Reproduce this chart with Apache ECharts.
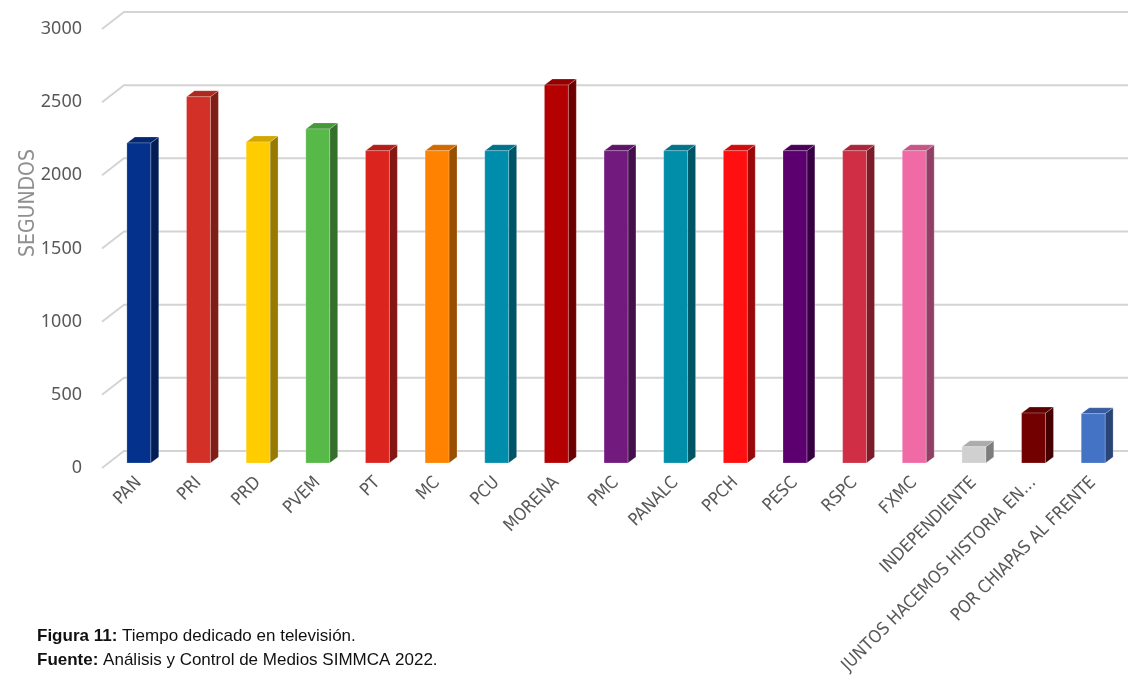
<!DOCTYPE html>
<html>
<head>
<meta charset="utf-8">
<script src="https://cdn.jsdelivr.net/npm/echarts@6/dist/echarts.min.js"></script>
<style>html,body{margin:0;padding:0;background:#fff;}#c{width:1128px;height:675px;}</style>
</head>
<body>
<div id="c"></div>
<script>
const categories = ['PAN','PRI','PRD','PVEM','PT','MC','PCU','MORENA','PMC','PANALC','PPCH','PESC','RSPC','FXMC','INDEPENDIENTE','JUNTOS HACEMOS HISTORIA EN…','POR CHIAPAS AL FRENTE'];
const seconds = [2187, 2503, 2194, 2283, 2134, 2134, 2134, 2583, 2134, 2134, 2134, 2134, 2134, 2134, 111, 341, 337];
const barColors = ['#03318c','#d33127','#ffcc00','#57b947','#dc241f','#ff8300','#008cab','#b40000','#721a7e','#008ea9','#ff0f0f','#5b006e','#cf2e45','#f06aa6','#d0d0d0','#720000','#4472c4'];
const yTicks = [0, 500, 1000, 1500, 2000, 2500, 3000];

function shade(hex, f) {
  const n = parseInt(hex.slice(1), 16);
  const r = Math.round(((n >> 16) & 255) * f), g = Math.round(((n >> 8) & 255) * f), b = Math.round((n & 255) * f);
  return 'rgb(' + r + ',' + g + ',' + b + ')';
}

const COND = '"DejaVu Sans Condensed", "DejaVu Sans", sans-serif';
const chart = echarts.init(document.getElementById('c'), null, {renderer: 'canvas'});
const DX = 8, DY = -6;       // bar depth
const GY = -12;              // wall depth offset (back plane)

chart.setOption({
  animation: false,
  grid: {left: 109, right: 5, top: 24, bottom: 212, containLabel: false, outerBoundsMode: 'none'},
  xAxis: {
    type: 'category', data: categories,
    axisLine: {show: false}, axisTick: {show: false},
    axisLabel: {rotate: 45, margin: 17, interval: 0, color: '#595959', fontSize: 17.5, fontFamily: COND}
  },
  yAxis: {
    type: 'value', min: 0, max: 3000, interval: 500,
    axisLine: {show: false}, axisTick: {show: false}, splitLine: {show: false},
    axisLabel: {margin: 27,
      formatter: function (v) { return '{a|' + v + '}'; },
      rich: {a: {color: '#595959', fontSize: 18, fontFamily: '"Noto Sans", sans-serif', padding: [10, 0, 0, 0]}}}
  },
  graphic: [
    {type: 'text', x: 29, y: 203, rotation: Math.PI / 2,
     style: {text: 'SEGUNDOS', fill: '#8f8f8f', font: '21px "DejaVu Sans Condensed", "DejaVu Sans", sans-serif', align: 'center', verticalAlign: 'middle'}},
    {type: 'text', x: 37, y: 636,
     style: {text: '{b|Figura 11:} Tiempo dedicado en televisión.', fill: '#111', font: '17px "Liberation Sans", Arial, sans-serif', verticalAlign: 'middle',
       rich: {b: {fontWeight: 'bold', fontSize: 17, fontFamily: '"Liberation Sans", Arial, sans-serif', fill: '#111'}}}},
    {type: 'text', x: 37, y: 660,
     style: {text: '{b|Fuente:} Análisis y Control de Medios SIMMCA 2022.', fill: '#111', font: '17px "Liberation Sans", Arial, sans-serif', verticalAlign: 'middle',
       rich: {b: {fontWeight: 'bold', fontSize: 17, fontFamily: '"Liberation Sans", Arial, sans-serif', fill: '#111'}}}}
  ],
  series: [
    {
      type: 'custom', z: 1, silent: true,
      data: yTicks.map(v => [0, v]),
      renderItem: function (params, api) {
        const p = api.coord([0, api.value(1)]);
        const band = api.size([1, 0])[0];
        const left = p[0] - band / 2;
        const y = p[1];
        return {
          type: 'polyline',
          shape: {points: [[left - 7, y + 5], [left + 15, y + GY], [params.coordSys.x + params.coordSys.width + 10, y + GY]]},
          style: {stroke: '#d4d4d4', lineWidth: 2, fill: null}
        };
      }
    },
    {
      type: 'custom', z: 5,
      data: seconds.map((v, i) => [i, v]),
      encode: {x: 0, y: 1},
      renderItem: function (params, api) {
        const i = api.value(0);
        const base = api.coord([i, 0]);
        const top = api.coord([i, api.value(1)]);
        const w = api.size([1, 0])[0] * 0.4;
        const x0 = base[0] - w / 2, x1 = base[0] + w / 2;
        const yb = base[1], yt = top[1];
        const c = barColors[i];
        return {
          type: 'group',
          children: [
            {type: 'polygon', shape: {points: [[x1, yb], [x1 + DX, yb + DY], [x1 + DX, yt + DY], [x1, yt]]},
             style: {fill: shade(c, 0.6), stroke: 'rgba(255,255,255,0.35)', lineWidth: 0.6}},
            {type: 'polygon', shape: {points: [[x0, yt], [x1, yt], [x1 + DX, yt + DY], [x0 + DX, yt + DY]]},
             style: {fill: shade(c, 0.82), stroke: 'rgba(255,255,255,0.35)', lineWidth: 0.6}},
            {type: 'rect', shape: {x: x0, y: yt, width: w, height: yb - yt},
             style: {fill: c, stroke: 'rgba(255,255,255,0.35)', lineWidth: 0.6}}
          ]
        };
      }
    }
  ]
});
</script>
</body>
</html>
